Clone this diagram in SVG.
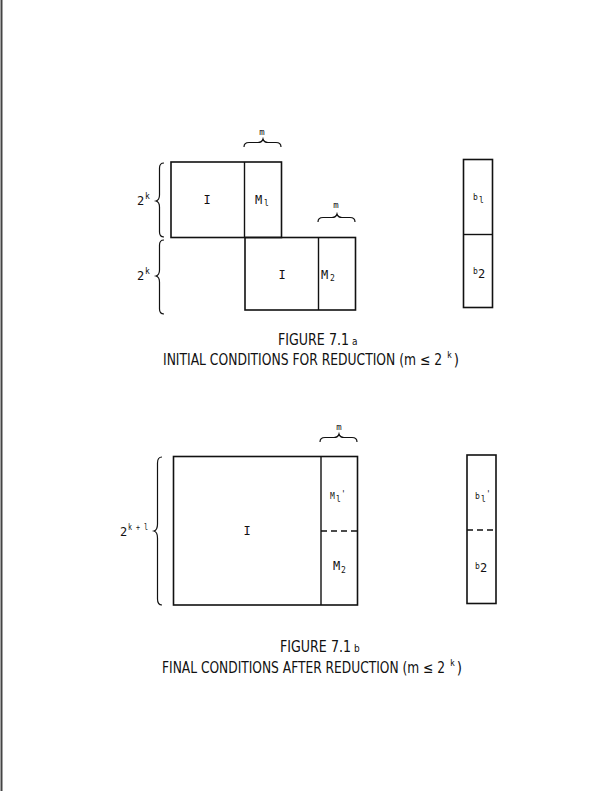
<svg xmlns="http://www.w3.org/2000/svg" width="612" height="791" viewBox="0 0 612 791">
<style>
.box{fill:none;stroke:#111;stroke-width:1.6}
.ln{fill:none;stroke:#111;stroke-width:1.4}
.br{fill:none;stroke:#111;stroke-width:1.2}
.dash{fill:none;stroke:#111;stroke-width:1.5;stroke-dasharray:6 4}
text{font-family:"DejaVu Sans Mono","Liberation Mono",monospace;fill:#111}
.lb{font-size:12px}
.sm{font-size:8px}
.mm{font-size:9px}
.cap{font-size:15px;font-family:"DejaVu Sans Condensed","DejaVu Sans Mono",sans-serif}
.capsm{font-size:10px;font-family:"DejaVu Sans Condensed","DejaVu Sans Mono",sans-serif}
</style>
<rect width="612" height="791" fill="#fff"/>
<line x1="1.5" y1="0" x2="1.5" y2="791" stroke="#444" stroke-width="2"/>

<g id="fig-a">
  <g id="a-block1">
    <rect class="box" x="171" y="162" width="110.5" height="75.5"/>
    <line class="ln" x1="244.5" y1="162" x2="244.5" y2="237.5"/>
    <text class="lb" x="207" y="204" text-anchor="middle">I</text>
    <text class="lb" x="255" y="204">M</text><text class="sm" x="264" y="206">l</text>
  </g>
  <g id="a-block2">
    <rect class="box" x="245" y="237.5" width="110.5" height="72.5"/>
    <line class="ln" x1="318.5" y1="237.5" x2="318.5" y2="310"/>
    <text class="lb" x="282" y="279" text-anchor="middle">I</text>
    <text class="lb" x="321" y="279">M</text><text class="sm" x="330" y="281">2</text>
  </g>
  <g id="a-vector">
    <rect class="box" x="463.5" y="159.5" width="29" height="148"/>
    <line class="ln" x1="463.5" y1="234.5" x2="492.5" y2="234.5"/>
    <text class="sm" x="473" y="200">b</text><text class="sm" x="479" y="203">l</text>
    <text class="sm" x="473" y="274">b</text><text class="lb" x="478" y="278">2</text>
  </g>
  <g id="a-labels">
    <text class="lb" x="137" y="205">2</text><text class="sm" x="145" y="199">k</text>
    <text class="lb" x="137" y="280">2</text><text class="sm" x="145" y="274">k</text>
    <text class="mm" x="262" y="135" text-anchor="middle">m</text>
    <text class="mm" x="336" y="208" text-anchor="middle">m</text>
  </g>
</g>

<g id="braces">
  <path class="br" d="M244 147 Q244 142.5 249 142.5 L258 142.5 Q262 142.5 263 139 Q264 142.5 268 142.5 L276 142.5 Q281 142.5 281 147"/>
  <path class="br" d="M318 222 Q318 217.5 323 217.5 L332 217.5 Q336 217.5 337 214 Q338 217.5 342 217.5 L350 217.5 Q355 217.5 355 222"/>
  <path class="br" d="M164 163 Q159.5 163 159.5 168 L159.5 195 Q159.5 200 156 201 Q159.5 202 159.5 207 L159.5 232 Q159.5 237 164 237"/>
  <path class="br" d="M164 240 Q159.5 240 159.5 245 L159.5 270 Q159.5 275 156 276 Q159.5 277 159.5 282 L159.5 309 Q159.5 314 164 314"/>
  <path class="br" d="M320 442 Q320 437.5 325 437.5 L334 437.5 Q338 437.5 339 434 Q340 437.5 344 437.5 L352 437.5 Q357 437.5 357 442"/>
  <path class="br" d="M162 457 Q157.5 457 157.5 463 L157.5 524 Q157.5 530 154 531 Q157.5 532 157.5 538 L157.5 599 Q157.5 605 162 605"/>
</g>

<g id="caption-a">
  <text class="cap" x="278" y="345" textLength="71" lengthAdjust="spacingAndGlyphs">FIGURE 7.1</text>
  <text class="capsm" x="352" y="345">a</text>
  <text class="cap" x="163" y="365" textLength="279" lengthAdjust="spacingAndGlyphs">INITIAL CONDITIONS FOR REDUCTION (m ≤ 2</text>
  <text class="sm" x="447" y="365"><tspan dy="-7">k</tspan><tspan class="cap" dx="2" dy="7">)</tspan></text>
</g>

<g id="fig-b">
  <g id="b-block">
    <rect class="box" x="173.5" y="456.5" width="184" height="148.5"/>
    <line class="ln" x1="321" y1="456.5" x2="321" y2="605"/>
    <line class="dash" x1="321" y1="531" x2="357.5" y2="531"/>
    <text class="lb" x="247" y="535" text-anchor="middle">I</text>
    <text class="sm" x="330" y="499">M</text><text class="sm" x="336" y="502">l</text><text class="sm" x="341" y="497">'</text>
    <text class="lb" x="333" y="570">M</text><text class="sm" x="341" y="573">2</text>
  </g>
  <g id="b-vector">
    <rect class="box" x="467" y="455" width="29" height="148.5"/>
    <line class="dash" x1="467" y1="530" x2="496" y2="530"/>
    <text class="sm" x="475" y="499">b</text><text class="sm" x="481" y="502">l</text><text class="sm" x="486" y="497">'</text>
    <text class="sm" x="475" y="569">b</text><text class="lb" x="480" y="572">2</text>
  </g>
  <g id="b-labels">
    <text class="lb" x="120" y="536">2</text><text class="sm" x="128" y="530" textLength="20" lengthAdjust="spacingAndGlyphs">k + l</text>
    <text class="mm" x="339" y="430" text-anchor="middle">m</text>
  </g>
</g>

<g id="caption-b">
  <text class="cap" x="280" y="652" textLength="71" lengthAdjust="spacingAndGlyphs">FIGURE 7.1</text>
  <text class="capsm" x="354" y="652">b</text>
  <text class="cap" x="162" y="673" textLength="283" lengthAdjust="spacingAndGlyphs">FINAL CONDITIONS AFTER REDUCTION (m ≤ 2</text>
  <text class="sm" x="450" y="673"><tspan dy="-7">k</tspan><tspan class="cap" dx="2" dy="7">)</tspan></text>
</g>
</svg>
